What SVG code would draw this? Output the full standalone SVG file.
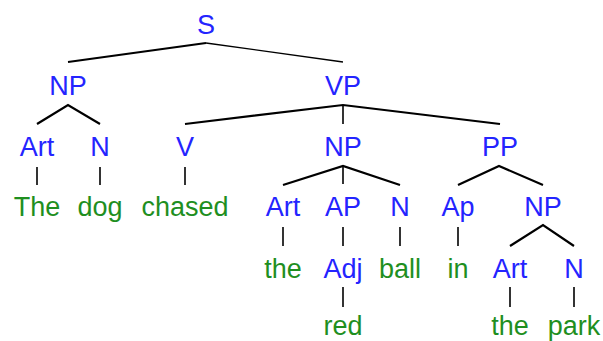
<svg xmlns="http://www.w3.org/2000/svg" width="603" height="341" viewBox="0 0 603 341">
  <style>
    text { font-family: "Liberation Sans", Arial, sans-serif; font-size: 27px; text-anchor: middle; }
    .cat { fill: #2424ff; }
    .word { fill: #1f8f1f; }
    .edge { stroke: #000; stroke-width: 2.2; fill: none; stroke-linecap: butt; stroke-linejoin: miter; }
    .thin { stroke: #000; stroke-width: 1.3; fill: none; }
    .leaf { stroke: #000; stroke-width: 1.6; fill: none; }
  </style>
  <rect width="603" height="341" fill="#fff"/>

  <!-- branches -->
  <g id="connectors">
    <polyline class="edge" points="68,62 206,43"/>
    <polyline class="thin" points="206,43 343,62"/>
    <polyline class="edge" points="37,124 68,105 100,124"/>
    <polyline class="edge" points="185,124 343,105 500,124"/>
    <line class="leaf" x1="343" y1="105" x2="343" y2="124"/>
    <polyline class="edge" points="283,185 343,166 400,185"/>
    <line class="leaf" x1="343" y1="166" x2="343" y2="184"/>
    <polyline class="edge" points="458,185 499,166 543,185"/>
    <polyline class="edge" points="510,246 543,225 574,246"/>
    <line class="leaf" x1="37" y1="167" x2="37" y2="185"/>
    <line class="leaf" x1="100" y1="167" x2="100" y2="185"/>
    <line class="leaf" x1="185" y1="167" x2="185" y2="185"/>
    <line class="leaf" x1="283" y1="227" x2="283" y2="246"/>
    <line class="leaf" x1="343" y1="227" x2="343" y2="246"/>
    <line class="leaf" x1="400" y1="227" x2="400" y2="246"/>
    <line class="leaf" x1="458" y1="227" x2="458" y2="246"/>
    <line class="leaf" x1="343" y1="287" x2="343" y2="307"/>
    <line class="leaf" x1="510" y1="287" x2="510" y2="307"/>
    <line class="leaf" x1="574" y1="287" x2="574" y2="307"/>
  </g>

  <!-- categories -->
  <g id="S"><text class="cat" x="206" y="34">S</text></g>
  <g id="NP1"><text class="cat" x="68" y="95">NP</text></g>
  <g id="VP"><text class="cat" x="343" y="95">VP</text></g>
  <g id="Art1"><text class="cat" x="37" y="156">Art</text></g>
  <g id="N1"><text class="cat" x="100" y="156">N</text></g>
  <g id="V"><text class="cat" x="185" y="156">V</text></g>
  <g id="NP2"><text class="cat" x="343" y="156">NP</text></g>
  <g id="PP"><text class="cat" x="500" y="156">PP</text></g>
  <g id="Art2"><text class="cat" x="283" y="216">Art</text></g>
  <g id="AP"><text class="cat" x="343" y="216">AP</text></g>
  <g id="N2"><text class="cat" x="400" y="216">N</text></g>
  <g id="Ap"><text class="cat" x="458" y="216">Ap</text></g>
  <g id="NP3"><text class="cat" x="543" y="216">NP</text></g>
  <g id="Adj"><text class="cat" x="343" y="278">Adj</text></g>
  <g id="Art3"><text class="cat" x="510" y="278">Art</text></g>
  <g id="N3"><text class="cat" x="574" y="278">N</text></g>

  <!-- words -->
  <g id="w-The"><text class="word" x="37" y="216">The</text></g>
  <g id="w-dog"><text class="word" x="100" y="216">dog</text></g>
  <g id="w-chased"><text class="word" x="185" y="216">chased</text></g>
  <g id="w-the1"><text class="word" x="283" y="278">the</text></g>
  <g id="w-ball"><text class="word" x="400" y="278">ball</text></g>
  <g id="w-in"><text class="word" x="458" y="278">in</text></g>
  <g id="w-red"><text class="word" x="343" y="335">red</text></g>
  <g id="w-the2"><text class="word" x="510" y="335">the</text></g>
  <g id="w-park"><text class="word" x="574" y="335">park</text></g>
</svg>
